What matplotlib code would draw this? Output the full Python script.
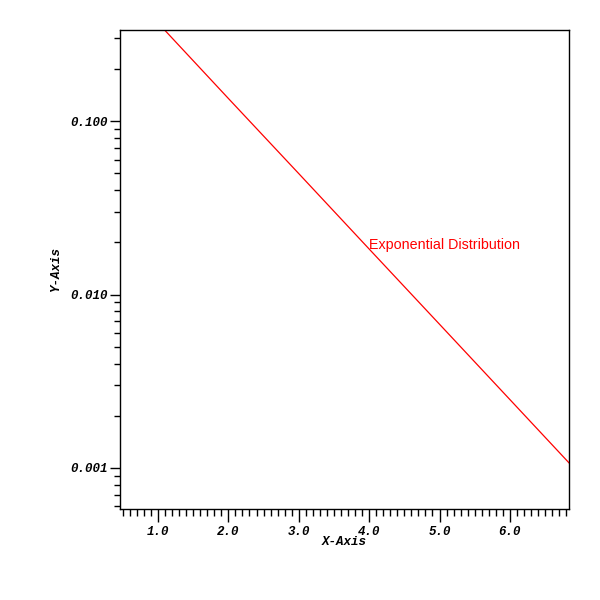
import matplotlib
matplotlib.use("Agg")
import matplotlib.pyplot as plt
from matplotlib.ticker import FixedLocator, MultipleLocator, LogLocator, NullFormatter

# Data (straight line on log scale)
x_vals = [1.0, 2.0, 3.0, 4.0, 5.0, 6.0, 7.0]
y_vals = [0.368, 0.135, 0.0498, 0.0183, 0.00674, 0.00248, 0.000912]
x_ticks = [1.0, 2.0, 3.0, 4.0, 5.0, 6.0]
x_tick_labels = ["1.0", "2.0", "3.0", "4.0", "5.0", "6.0"]
y_ticks = [0.001, 0.01, 0.1]
y_tick_labels = ["0.001", "0.010", "0.100"]
annotation = "Exponential Distribution"
annot_x = 4.0
annot_y = 0.0183

fig = plt.figure(figsize=(6, 6), dpi=100)
ax = fig.add_axes([0.2, 1 - 509 / 600, (569 - 120) / 600, (509 - 30) / 600])

ax.plot(x_vals, y_vals, color="red", linewidth=0.9)
ax.set_yscale("log")
ax.set_xlim(0.46, 6.84)
ax.set_ylim(0.00058, 0.335)

mono = {"family": "Liberation Mono", "weight": "bold", "style": "italic", "size": 9}

ax.xaxis.set_major_locator(FixedLocator(x_ticks))
ax.xaxis.set_minor_locator(MultipleLocator(0.1))
ax.set_xticklabels(x_tick_labels, fontdict=mono)
ax.yaxis.set_major_locator(FixedLocator(y_ticks))
ax.yaxis.set_minor_locator(LogLocator(base=10, subs=range(2, 10)))
ax.yaxis.set_minor_formatter(NullFormatter())
ax.set_yticklabels(y_tick_labels, fontdict=mono)

ax.tick_params(axis="y", which="major", direction="out", length=7, width=1, pad=2)
ax.tick_params(axis="y", which="minor", direction="out", length=4, width=1)
ax.tick_params(axis="x", which="major", direction="out", length=9, width=1, pad=3)
ax.tick_params(axis="x", which="minor", direction="out", length=5, width=1)
for s in ax.spines.values():
    s.set_linewidth(1)

ax.set_xlabel("X-Axis", fontdict=mono, labelpad=-1)
ax.set_ylabel("Y-Axis", fontdict=mono, labelpad=6)

ax.text(annot_x, annot_y, annotation, color="red", fontsize=10.3,
        family="Liberation Sans", va="baseline", ha="left")

fig.savefig("out.png", dpi=100)
